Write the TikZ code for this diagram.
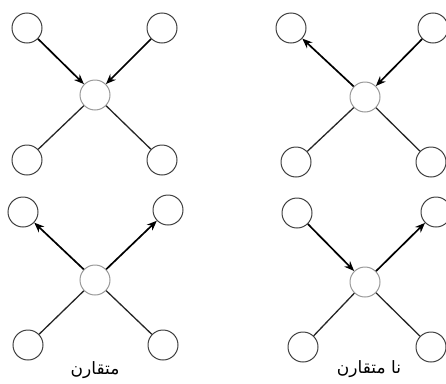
\documentclass[tikz,border=0pt]{standalone}
\usepackage{fontspec}
\newfontfamily\arabicfont[Script=Arabic]{DejaVu Sans}
\TeXXeTstate=1
\usetikzlibrary{arrows.meta}
\begin{document}
\begin{tikzpicture}[x=1pt,y=-1pt,
  vert/.style={circle,draw=black!75,line width=1pt,minimum size=30pt,inner sep=0pt,fill=white},
  hub/.style={circle,draw=black!40,line width=1pt,minimum size=30pt,inner sep=0pt,fill=white},
  edge/.style={draw=black!85,line width=1.3pt},
  arr/.style={edge,draw=black,line width=1.7pt,-{Stealth[length=10pt,width=8pt]}},
  lbl/.style={font=\arabicfont\fontsize{17}{20}\selectfont,inner sep=0pt}]
\useasboundingbox (0,0) rectangle (446,383);
% top-left panel
\node[vert] (a1) at (27,28) {};
\node[vert] (a2) at (162,28) {};
\node[hub]  (a0) at (95,95) {};
\node[vert] (a3) at (27,160) {};
\node[vert] (a4) at (162,160) {};
\draw[arr] (a1) -- (a0);
\draw[arr] (a2) -- (a0);
\draw[edge] (a0) -- (a3);
\draw[edge] (a0) -- (a4);
% top-right panel
\node[vert] (b1) at (291,28) {};
\node[vert] (b2) at (433,28) {};
\node[hub]  (b0) at (365,97) {};
\node[vert] (b3) at (296,162) {};
\node[vert] (b4) at (431,162) {};
\draw[arr] (b0) -- (b1);
\draw[arr] (b2) -- (b0);
\draw[edge] (b0) -- (b3);
\draw[edge] (b0) -- (b4);
% bottom-left panel
\node[vert] (c1) at (23,212) {};
\node[vert] (c2) at (168,210) {};
\node[hub]  (c0) at (95,280) {};
\node[vert] (c3) at (28,345) {};
\node[vert] (c4) at (163,345) {};
\draw[arr] (c0) -- (c1);
\draw[arr] (c0) -- (c2);
\draw[edge] (c0) -- (c3);
\draw[edge] (c0) -- (c4);
\node[lbl] (cl) at (95,370) {\beginR متقارن\endR};
% bottom-right panel
\node[vert] (d1) at (297,213) {};
\node[vert] (d2) at (436,212) {};
\node[hub]  (d0) at (365,282) {};
\node[vert] (d3) at (303,347) {};
\node[vert] (d4) at (431,347) {};
\draw[arr] (d1) -- (d0);
\draw[arr] (d0) -- (d2);
\draw[edge] (d0) -- (d3);
\draw[edge] (d0) -- (d4);
\node[lbl] (dl) at (369,369) {\beginR نا متقارن\endR};
\end{tikzpicture}
\end{document}
